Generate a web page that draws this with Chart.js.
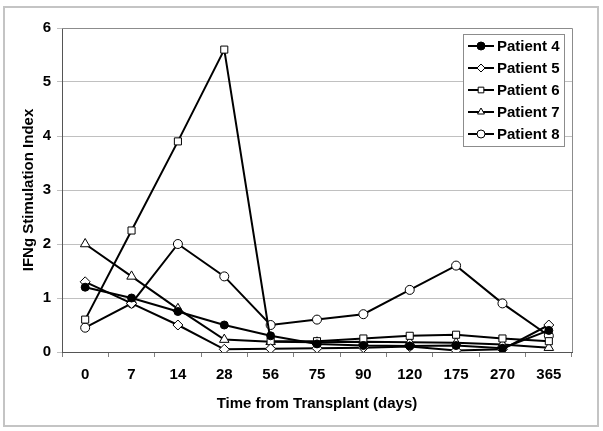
<!DOCTYPE html>
<html>
<head>
<meta charset="utf-8">
<script src="https://cdn.jsdelivr.net/npm/chart.js@4.4.1/dist/chart.umd.min.js"></script>
<style>
  html, body { margin: 0; padding: 0; background: #fff; }
  #wrap { width: 603px; height: 431px; position: relative; }
</style>
</head>
<body>
<div id="wrap"><canvas id="ifngChart"></canvas></div>
<script>
// days after transplant (category axis)
const days = ['0', '7', '14', '28', '56', '75', '90', '120', '175', '270', '365'];

const patient4 = [1.2, 1.0, 0.75, 0.5, 0.3, 0.15, 0.12, 0.11, 0.12, 0.07, 0.4];
const patient5 = [1.3, 0.9, 0.5, 0.05, 0.06, 0.07, 0.08, 0.1, 0.03, 0.05, 0.5];
const patient6 = [0.6, 2.25, 3.9, 5.6, 0.2, 0.2, 0.25, 0.3, 0.32, 0.25, 0.2];
const patient7 = [2.0, 1.4, 0.8, 0.23, 0.19, 0.18, 0.19, 0.18, 0.17, 0.14, 0.08];
const patient8 = [0.45, 0.9, 2.0, 1.4, 0.5, 0.6, 0.7, 1.15, 1.6, 0.9, 0.3];

const yMin = 0;
const yMax = 6;
const yStep = 1;

const FONT = "'Liberation Sans', Arial, sans-serif";
Chart.defaults.font.family = FONT;
Chart.defaults.font.weight = 'bold';
Chart.defaults.font.size = 15;
Chart.defaults.color = '#000';

function series(label, data, style, fill, radius) {
  return {
    label,
    data,
    borderColor: '#000',
    borderWidth: 2,
    pointStyle: style,
    pointRadius: radius,
    pointBorderWidth: 1,
    pointBorderColor: '#000',
    pointBackgroundColor: fill,
    tension: 0
  };
}

// frame round the whole picture + border of the plot area
const frames = {
  id: 'frames',
  beforeDatasetsDraw(chart) {
    const { ctx, chartArea: a } = chart;
    ctx.save();
    ctx.strokeStyle = '#8c8c8c';
    ctx.lineWidth = 1;
    ctx.beginPath();
    ctx.moveTo(a.left, a.top + 0.5);
    ctx.lineTo(a.right + 0.5, a.top + 0.5);
    ctx.lineTo(a.right + 0.5, a.bottom);
    ctx.stroke();
    ctx.restore();
  },
  afterDraw(chart) {
    const ctx = chart.ctx;
    ctx.save();
    ctx.strokeStyle = '#c4c4c4';
    ctx.lineWidth = 2;
    ctx.strokeRect(4, 7, 594, 419);
    ctx.restore();
  }
};

// Excel style legend: line through the marker, boxed
const boxLegend = {
  id: 'boxLegend',
  afterDraw(chart) {
    const ctx = chart.ctx;
    const x0 = 463, y0 = 34, w = 101, h = 112;
    ctx.save();
    ctx.fillStyle = '#fff';
    ctx.fillRect(x0, y0, w, h);
    ctx.strokeStyle = '#8c8c8c';
    ctx.lineWidth = 1;
    ctx.strokeRect(x0 + 0.5, y0 + 0.5, w, h);
    chart.data.datasets.forEach((ds, i) => {
      const y = 46 + i * 22;
      ctx.strokeStyle = '#000';
      ctx.lineWidth = 2;
      ctx.beginPath();
      ctx.moveTo(468, y);
      ctx.lineTo(494, y);
      ctx.stroke();
      ctx.fillStyle = ds.pointBackgroundColor;
      ctx.lineWidth = 1;
      Chart.helpers.drawPoint(ctx, { pointStyle: ds.pointStyle, radius: 4, rotation: 0, borderWidth: 1 }, 481, y);
      ctx.fillStyle = '#000';
      ctx.font = 'bold 15px ' + FONT;
      ctx.textBaseline = 'middle';
      ctx.fillText(ds.label, 497, y + 1);
    });
    ctx.restore();
  }
};

new Chart(document.getElementById('ifngChart'), {
  type: 'line',
  data: {
    labels: days,
    datasets: [
      series('Patient 4', patient4, 'circle', '#000', 4),
      series('Patient 5', patient5, 'rectRot', '#fff', 5),
      series('Patient 6', patient6, 'rect', '#fff', 5),
      series('Patient 7', patient7, 'triangle', '#fff', 5.5),
      series('Patient 8', patient8, 'circle', '#fff', 4.5)
    ]
  },
  options: {
    responsive: true,
    maintainAspectRatio: false,
    animation: false,
    layout: { padding: { left: 10, right: 31, top: 28, bottom: 6 } },
    plugins: {
      legend: { display: false },
      tooltip: { enabled: false }
    },
    scales: {
      x: {
        offset: true,
        grid: { offset: true, drawOnChartArea: false, drawTicks: true, tickLength: 5, color: '#808080' },
        border: { color: '#555', width: 1 },
        ticks: { padding: 9, autoSkip: false, maxRotation: 0 },
        title: { display: true, text: 'Time from Transplant (days)', padding: { top: 0, bottom: 12 } },
        afterFit(scale) { scale.height = 73; }
      },
      y: {
        min: yMin,
        max: yMax,
        ticks: { stepSize: yStep, padding: 6 },
        grid: { color: '#c0c0c0', tickLength: 5 },
        border: { color: '#555', width: 1 },
        title: { display: true, text: 'IFNg Stimulation Index', padding: { top: 10, bottom: 0 } },
        afterFit(scale) { scale.width = 52; }
      }
    }
  },
  plugins: [frames, boxLegend]
});
</script>
</body>
</html>
